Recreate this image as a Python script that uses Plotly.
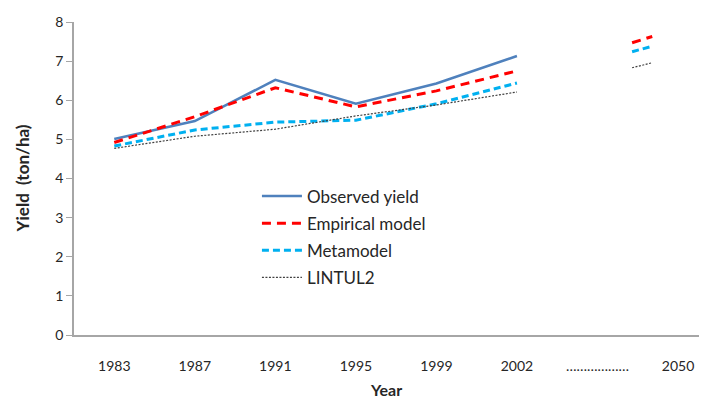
import plotly.graph_objects as go

categories = ["1983", "1987", "1991", "1995", "1999", "2002", "………………", "2050"]
obs_idx = [0, 1, 2, 3, 4, 5]
observed = [5.01, 5.47, 6.52, 5.91, 6.43, 7.13]
empirical = [4.92, 5.58, 6.32, 5.83, 6.24, 6.75]
metamodel = [4.83, 5.24, 5.44, 5.49, 5.91, 6.44]
lintul2 = [4.77, 5.08, 5.26, 5.60, 5.88, 6.21]

# short projected segments drawn near 2050 (x in category-index units)
proj_idx = [6.43, 6.68]
empirical_2050 = [7.47, 7.63]
metamodel_2050 = [7.24, 7.38]
lintul2_2050 = [6.83, 6.96]

BLUE = "#4F81BD"
RED = "#FF0000"
CYAN = "#00B0F0"
DARK = "#404040"
TXT = "#262626"

fig = go.Figure()
fig.add_trace(go.Scatter(x=obs_idx, y=observed, mode="lines", name="Observed yield",
                         legendgroup="a", line=dict(color=BLUE, width=2.5)))
fig.add_trace(go.Scatter(x=obs_idx, y=empirical, mode="lines", name="Empirical model",
                         legendgroup="b", line=dict(color=RED, width=3, dash="9px,6px")))
fig.add_trace(go.Scatter(x=obs_idx, y=metamodel, mode="lines", name="Metamodel",
                         legendgroup="c", line=dict(color=CYAN, width=3, dash="7px,4px")))
fig.add_trace(go.Scatter(x=obs_idx, y=lintul2, mode="lines", name="LINTUL2",
                         legendgroup="d", line=dict(color=DARK, width=1.2, dash="2px,1.5px")))
fig.add_trace(go.Scatter(x=proj_idx, y=empirical_2050, mode="lines", showlegend=False,
                         line=dict(color=RED, width=3, dash="9px,6px")))
fig.add_trace(go.Scatter(x=proj_idx, y=metamodel_2050, mode="lines", showlegend=False,
                         line=dict(color=CYAN, width=3, dash="7px,4px")))
fig.add_trace(go.Scatter(x=proj_idx, y=lintul2_2050, mode="lines", showlegend=False,
                         line=dict(color=DARK, width=1.2, dash="2px,1.5px")))

FONT = "Lato, Open Sans, sans-serif"

# page body adds an 8px offset, so the figure is sized to fill the rest of the window
fig.update_layout(
    width=699, height=392,
    margin=dict(l=66, r=0, t=14, b=65, autoexpand=False),
    paper_bgcolor="white", plot_bgcolor="white",
    font=dict(family=FONT, size=14, color=TXT),
    showlegend=True,
    legend=dict(x=0.289, y=0.5, xanchor="left", yanchor="top",
                bgcolor="rgba(0,0,0,0)", font=dict(size=17, color=TXT),
                tracegroupgap=2, itemwidth=40),
    xaxis=dict(range=[-0.5, 7.36], tickmode="array", automargin=False,
               tickvals=list(range(len(categories))), ticktext=categories,
               showgrid=False, zeroline=False, showline=True, linecolor="#A6A6A6",
               linewidth=1.5, ticks="outside", ticklen=17, tickcolor="rgba(0,0,0,0)",
               tickfont=dict(size=14, color=TXT)),
    yaxis=dict(range=[0, 8], dtick=1, showgrid=False, zeroline=False, automargin=False,
               showline=True, linecolor="#A6A6A6", linewidth=1.5,
               ticks="outside", ticklen=6, tickcolor="#A6A6A6",
               tickfont=dict(size=14, color=TXT)),
    annotations=[
        dict(text="<b>Year</b>", xref="paper", yref="paper", x=0.5, y=-0.175,
             xanchor="center", yanchor="middle", showarrow=False,
             font=dict(size=16, color=TXT), xshift=-5),
        dict(text="<b>Yield  (ton/ha)</b>", xref="paper", yref="paper", x=0, y=0.5,
             xanchor="center", yanchor="middle", showarrow=False, textangle=-90,
             font=dict(size=17, color=TXT), xshift=-52),
    ],
)

fig.write_html("out.html")
